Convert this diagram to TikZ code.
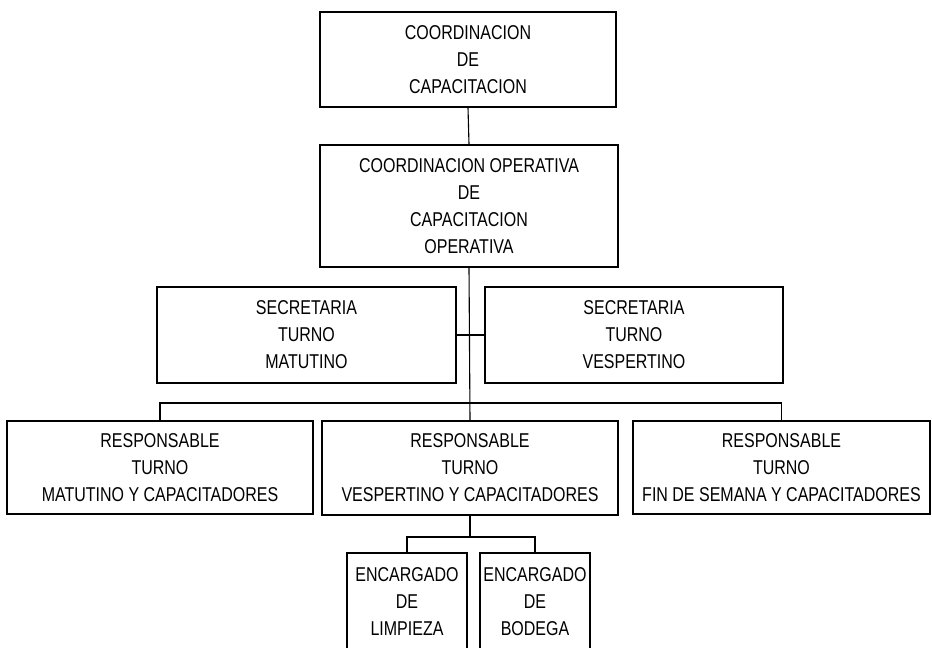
\documentclass[tikz,border=0pt]{standalone}
\usepackage{fontspec}
\newfontfamily\orgfont{Liberation Sans}[FakeStretch=0.8]
\usetikzlibrary{positioning}
\tikzset{
unit/.style={draw, line width=1.5pt, align=center, inner sep=0pt,
  font=\orgfont\fontsize{20}{27}\selectfont},
link/.style={line width=1.1pt},
}

\begin{document}
\begin{tikzpicture}[x=1pt, y=-1pt]
    \clip (0,0) rectangle (932,648);

    %top levels
    \node[unit, minimum width=296pt, minimum height=95pt]  (coord)   at (468,59.5) {COORDINACION\\DE\\CAPACITACION};
    \node[unit, minimum width=298pt, minimum height=122pt] (coordop) at (469,206)  {COORDINACION OPERATIVA\\DE\\CAPACITACION\\OPERATIVA};

    %secretarias
    \node[unit, minimum width=299pt, minimum height=96pt] (secmat) at (306.5,335) {SECRETARIA\\TURNO\\MATUTINO};
    \node[unit, minimum width=298pt, minimum height=96pt] (secves) at (634,335)   {SECRETARIA\\TURNO\\VESPERTINO};

    %responsables
    \node[unit, minimum width=306pt, minimum height=93pt] (respmat) at (160,467.5) {RESPONSABLE\\TURNO\\MATUTINO Y CAPACITADORES};
    \node[unit, minimum width=296pt, minimum height=94pt] (respves) at (470,468)   {RESPONSABLE\\TURNO\\VESPERTINO Y CAPACITADORES};
    \node[unit, minimum width=297pt, minimum height=93pt] (respfin) at (781.5,467.5) {RESPONSABLE\\TURNO\\FIN DE SEMANA Y CAPACITADORES};

    %encargados (cut by the page edge)
    \node[unit, minimum width=120pt, minimum height=98pt] (limpieza) at (407,602) {ENCARGADO\\DE\\LIMPIEZA};
    \node[unit, minimum width=110pt, minimum height=98pt] (bodega)   at (535,602) {ENCARGADO\\DE\\BODEGA};

    \coordinate (bar)    at (470,403);
    \coordinate (subbar) at (470,537);

    %lines
    \draw[link] (coord.south)--(coordop.north);
    \draw[link] (coordop.south)--(respves.north);
    \draw[link] (secmat.east)--(secves.west);
    \draw[link] (respmat.north) |- (bar) -| (respfin.north);
    \draw[link] (respves.south)--(subbar);
    \draw[link] (limpieza.north) |- (subbar) -| (bodega.north);

\end{tikzpicture}
\end{document}
